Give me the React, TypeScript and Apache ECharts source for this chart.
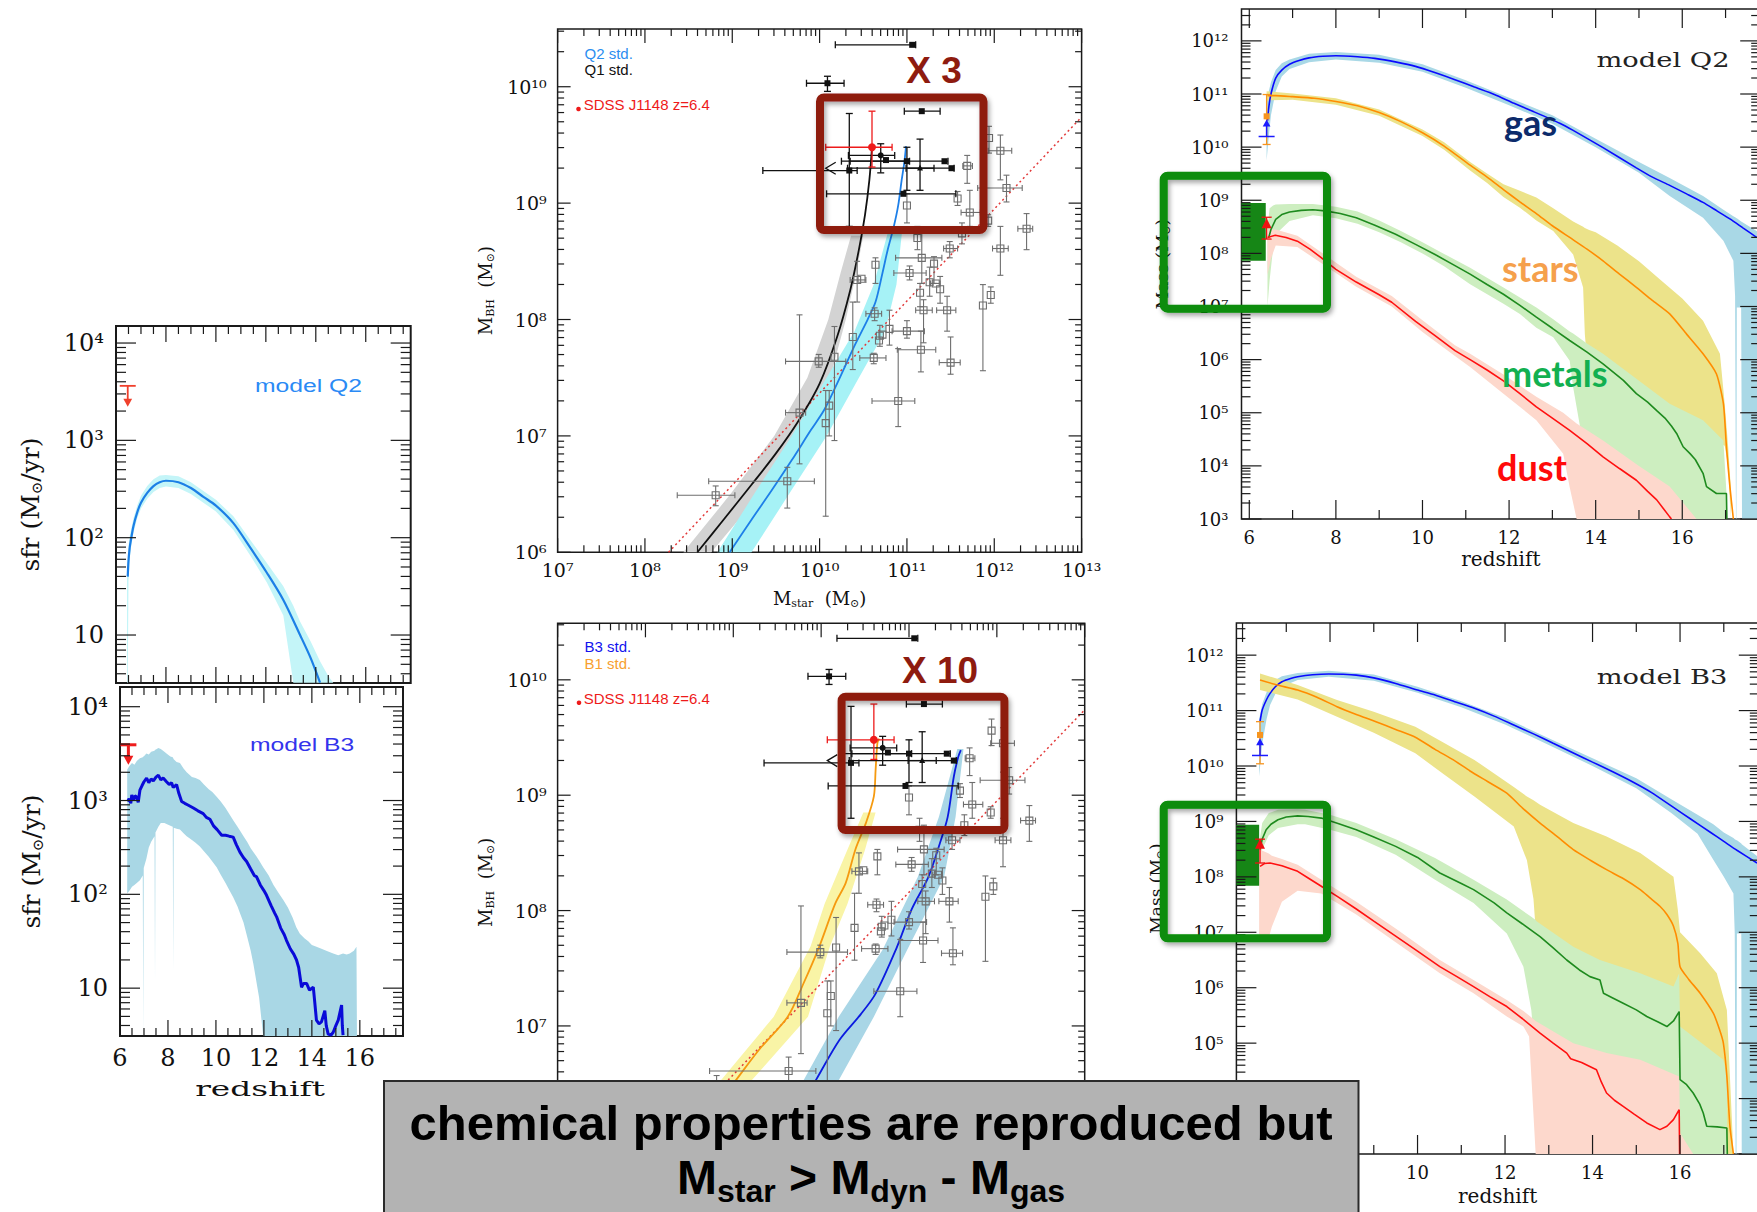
import React, { useEffect, useRef } from "react";
import * as echarts from "echarts";

const SERIF = "'DejaVu Serif', 'Liberation Serif', serif";
const SANS = "'Liberation Sans', Arial, sans-serif";
const HUM = "Lato, 'Open Sans', sans-serif";

// ===== Star formation histories: log10(SFR / Msun yr^-1) vs redshift =====
const sfrQ2Line = [
  [6.47, 1.6], [6.5, 1.76], [6.55, 1.9], [6.6, 1.98], [6.7, 2.12], [6.85, 2.26], [7.0, 2.36], [7.25, 2.46],
  [7.5, 2.53], [7.75, 2.57], [8.0, 2.585], [8.5, 2.57], [9.0, 2.51], [9.5, 2.42], [10.0, 2.33], [10.7, 2.15],
  [11.37, 1.9], [12.04, 1.64], [12.7, 1.36], [13.37, 1.0], [13.8, 0.76], [14.17, 0.51],
];
// [z, lower, upper]
const sfrQ2Band = [
  [6.44, 0.51, 1.7], [6.47, 0.51, 1.8], [6.5, 1.55, 1.92], [6.55, 1.78, 2.02], [6.6, 1.9, 2.08], [6.7, 2.05, 2.2],
  [6.85, 2.2, 2.33], [7.0, 2.3, 2.43], [7.25, 2.4, 2.53], [7.5, 2.47, 2.6], [7.75, 2.51, 2.64], [8.0, 2.525, 2.645],
  [8.5, 2.51, 2.63], [9.0, 2.45, 2.57], [9.5, 2.36, 2.48], [10.0, 2.27, 2.39], [10.7, 2.08, 2.22], [11.37, 1.82, 1.98],
  [12.04, 1.54, 1.74], [12.7, 1.2, 1.5], [13.1, 0.51, 1.3], [13.37, 0.51, 1.14], [13.8, 0.51, 0.93], [14.17, 0.51, 0.73],
  [14.5, 0.51, 0.58], [14.7, 0.51, 0.51],
];
// [z, cap, arrow tip]
const sfrQ2Limit = [[6.47, 3.56, 3.345]];

const sfrB3Line = [
  [6.32, 2.99], [6.38, 3.02], [6.45, 2.97], [6.49, 3.06], [6.56, 3.0], [6.62, 3.05], [6.69, 3.04], [6.76, 2.98],
  [6.83, 3.11], [6.92, 3.16], [7.0, 3.2], [7.11, 3.24], [7.2, 3.19], [7.3, 3.23], [7.39, 3.21], [7.5, 3.25],
  [7.6, 3.27], [7.7, 3.22], [7.8, 3.24], [7.94, 3.2], [8.05, 3.17], [8.15, 3.19], [8.22, 3.14], [8.36, 3.17],
  [8.45, 3.08], [8.57, 2.99], [8.7, 2.97], [8.85, 2.95], [9.06, 2.92], [9.25, 2.89], [9.47, 2.86], [9.6, 2.82],
  [9.75, 2.8], [9.9, 2.73], [10.05, 2.69], [10.24, 2.63], [10.4, 2.63], [10.55, 2.62], [10.72, 2.61], [10.85, 2.53],
  [11.0, 2.45], [11.15, 2.39], [11.28, 2.35], [11.45, 2.27], [11.6, 2.2], [11.69, 2.19], [11.85, 2.1], [12.0, 2.04],
  [12.11, 1.99], [12.3, 1.88], [12.45, 1.8], [12.53, 1.76], [12.7, 1.64], [12.85, 1.57], [12.94, 1.51], [13.1, 1.42],
  [13.25, 1.36], [13.36, 1.3], [13.45, 1.22], [13.57, 1.01], [13.65, 1.05], [13.78, 1.05], [13.9, 0.98], [14.06, 1.01],
  [14.12, 0.85], [14.19, 0.66], [14.3, 0.62], [14.4, 0.64], [14.54, 0.76], [14.6, 0.6], [14.68, 0.51], [14.8, 0.5],
  [14.89, 0.53], [15.0, 0.6], [15.1, 0.66], [15.24, 0.82], [15.27, 0.6], [15.3, 0.5],
];
const sfrB3Band = [
  [6.3, 2.01, 3.33], [6.4, 2.04, 3.37], [6.5, 2.08, 3.4], [6.6, 2.1, 3.38], [6.7, 2.12, 3.42], [6.83, 2.15, 3.45],
  [6.95, 2.2, 3.46], [6.97, 0.49, 3.47], [6.99, 2.28, 3.47], [7.1, 2.38, 3.5], [7.2, 2.5, 3.49], [7.3, 2.56, 3.52],
  [7.44, 2.62, 3.53], [7.46, 1.08, 3.54], [7.48, 2.66, 3.54], [7.6, 2.72, 3.56], [7.7, 2.76, 3.55], [7.85, 2.76, 3.52],
  [7.94, 2.75, 3.5], [8.1, 2.73, 3.47], [8.2, 2.72, 3.46], [8.22, 1.19, 3.45], [8.24, 2.71, 3.44], [8.36, 2.7, 3.41],
  [8.5, 2.69, 3.4], [8.65, 2.65, 3.34], [8.78, 2.62, 3.3], [9.0, 2.58, 3.25], [9.15, 2.55, 3.24], [9.33, 2.51, 3.22],
  [9.5, 2.46, 3.17], [9.7, 2.4, 3.12], [9.85, 2.35, 3.09], [10.03, 2.29, 3.04], [10.2, 2.21, 2.99], [10.4, 2.12, 2.92],
  [10.55, 2.05, 2.86], [10.72, 1.97, 2.79], [10.9, 1.87, 2.72], [11.0, 1.8, 2.68], [11.15, 1.7, 2.62], [11.3, 1.55, 2.56],
  [11.45, 1.4, 2.49], [11.56, 1.26, 2.45], [11.7, 1.05, 2.4], [11.8, 0.9, 2.36], [11.97, 0.49, 2.29], [12.2, 0.49, 2.2],
  [12.4, 0.49, 2.1], [12.6, 0.49, 2.02], [12.81, 0.49, 1.94], [13.0, 0.49, 1.86], [13.2, 0.49, 1.75], [13.35, 0.49, 1.65],
  [13.5, 0.49, 1.58], [13.7, 0.49, 1.53], [13.85, 0.49, 1.5], [14.0, 0.49, 1.46], [14.19, 0.49, 1.44], [14.4, 0.49, 1.42],
  [14.6, 0.49, 1.4], [14.89, 0.49, 1.37], [15.1, 0.49, 1.35], [15.3, 0.49, 1.37], [15.45, 0.49, 1.36], [15.58, 0.49, 1.37],
  [15.75, 0.49, 1.4], [15.86, 0.49, 1.44], [15.88, 0.49, 0.49],
];
const sfrB3Limit = [[6.35, 3.594, 3.38]];

// ===== Black-hole mass vs stellar mass (log10 Msun) =====
// model tracks: [log Mstar, log MBH]; bands: [log MBH, log Mstar low, log Mstar high]
const q1Track = [
  [8.6, 6.0], [8.9, 6.28], [9.22, 6.58], [9.5, 6.85], [9.75, 7.12], [10.0, 7.45], [10.2, 7.85], [10.35, 8.25],
  [10.45, 8.6], [10.52, 8.9], [10.57, 9.2], [10.6, 9.48],
];
const q1Band = [[6.0, 8.44, 8.76], [6.5, 8.98, 9.32], [7.0, 9.48, 9.8], [7.5, 9.86, 10.12], [8.0, 10.1, 10.3], [8.4, 10.24, 10.42], [8.72, 10.36, 10.5]];
const q2Track = [
  [8.97, 6.0], [9.22, 6.28], [9.45, 6.53], [9.68, 6.79], [9.9, 7.05], [10.05, 7.22], [10.2, 7.45], [10.41, 7.79],
  [10.55, 8.0], [10.64, 8.15], [10.72, 8.4], [10.78, 8.6], [10.85, 8.8], [10.9, 8.98], [10.94, 9.2], [10.97, 9.35], [10.99, 9.49],
];
const q2Band = [[6.0, 8.83, 9.22], [6.5, 9.25, 9.65], [7.0, 9.68, 10.08], [7.5, 10.08, 10.45], [7.9, 10.4, 10.75], [8.3, 10.62, 10.88], [8.8, 10.8, 10.95]];
const b1Track = [
  [8.5, 6.0], [8.8, 6.3], [9.02, 6.52], [9.3, 6.8], [9.62, 7.08], [9.8, 7.37], [9.98, 7.69], [10.16, 8.06],
  [10.28, 8.24], [10.39, 8.53], [10.51, 8.76], [10.6, 8.99], [10.62, 9.22], [10.64, 9.45], [10.66, 9.49],
];
const b1Band = [[6.0, 8.35, 8.7], [6.52, 8.85, 9.2], [7.08, 9.46, 9.85], [7.69, 9.88, 10.1], [8.06, 10.04, 10.3], [8.53, 10.3, 10.5], [8.85, 10.48, 10.62]];
const b3Track = [
  [9.53, 6.0], [9.75, 6.28], [9.94, 6.53], [10.21, 6.88], [10.45, 7.1], [10.62, 7.28], [10.85, 7.66], [11.03, 8.01],
  [11.22, 8.29], [11.35, 8.58], [11.44, 8.81], [11.51, 9.16], [11.56, 9.33], [11.59, 9.39],
];
const b3Band = [[6.0, 9.35, 9.8], [6.53, 9.8, 10.2], [7.08, 10.2, 10.6], [7.66, 10.7, 10.98], [8.29, 11.1, 11.4], [8.81, 11.34, 11.53], [9.4, 11.55, 11.62]];
const localRelation = [[8.27, 6.0], [13.0, 9.74]];
// [log Mstar, log MBH, x low, x high, y low, y high]
const localSample = [
  [11.94, 9.56, 11.94, 11.94, 9.43, 9.66], [12.07, 9.45, 11.93, 12.2, 9.2, 9.585], [11.69, 9.32, 11.64, 11.75, 9.17, 9.41],
  [12.14, 9.13, 11.81, 12.32, 9.01, 9.24], [11.58, 9.04, 11.58, 11.58, 8.98, 9.1], [11.0, 8.98, 11.0, 11.0, 8.83, 9.08],
  [11.72, 8.92, 11.62, 11.84, 8.8, 9.11], [11.93, 8.85, 11.93, 11.93, 8.8, 8.9], [12.37, 8.78, 12.27, 12.44, 8.6, 8.91],
  [11.63, 8.74, 11.63, 11.63, 8.65, 8.83], [11.12, 8.7, 11.12, 11.12, 8.6, 8.8], [11.49, 8.61, 11.42, 11.58, 8.53, 8.67],
  [12.07, 8.61, 11.98, 12.16, 8.38, 8.8], [11.17, 8.53, 10.87, 11.4, 8.31, 8.74], [11.31, 8.48, 11.31, 11.31, 8.31, 8.54],
  [10.64, 8.47, 10.64, 10.64, 8.31, 8.53], [10.43, 8.34, 10.35, 10.53, 8.15, 8.5], [10.48, 8.35, 10.48, 10.48, 8.35, 8.35],
  [11.03, 8.4, 10.85, 11.22, 8.34, 8.46], [11.26, 8.32, 11.26, 11.26, 8.2, 8.45], [11.33, 8.31, 11.27, 11.38, 8.31, 8.31],
  [11.38, 8.26, 11.38, 11.38, 8.14, 8.37], [11.15, 8.23, 11.15, 11.15, 8.11, 8.31], [11.96, 8.21, 11.96, 11.96, 8.14, 8.28],
  [11.87, 8.12, 11.87, 11.87, 7.56, 8.3], [11.19, 8.08, 11.1, 11.29, 7.8, 8.17], [11.46, 8.08, 11.34, 11.56, 7.9, 8.2],
  [10.63, 8.05, 10.53, 10.71, 7.99, 8.1], [10.38, 7.85, 10.38, 10.38, 7.57, 8.15], [10.8, 7.92, 10.8, 10.8, 7.78, 8.08],
  [11.0, 7.9, 10.83, 11.2, 7.84, 7.99], [10.69, 7.86, 10.69, 10.69, 7.77, 7.95], [10.68, 7.82, 10.68, 10.68, 7.82, 7.82],
  [10.72, 7.87, 10.72, 10.72, 7.87, 7.87], [10.62, 7.67, 10.46, 10.76, 7.62, 7.71], [9.99, 7.64, 9.61, 10.3, 7.59, 7.7],
  [10.17, 7.68, 10.17, 10.17, 6.96, 7.94], [11.16, 7.74, 10.89, 11.33, 7.55, 7.9], [11.5, 7.63, 11.37, 11.61, 7.53, 7.85],
  [10.9, 7.3, 10.6, 11.09, 7.08, 7.75], [9.77, 7.2, 9.61, 9.84, 6.76, 8.04], [10.11, 7.26, 10.11, 10.11, 7.0, 7.39],
  [10.07, 7.11, 10.07, 10.07, 6.31, 7.39], [9.63, 6.61, 8.73, 9.94, 6.38, 6.73], [8.81, 6.49, 8.37, 9.03, 6.4, 6.57],
];
// high-z quasars, last column: 0 square, 1 dot, 2 triangle
const highzQuasars = [
  [11.06, 10.36, 10.18, 11.1, 10.36, 10.36, 0], [10.09, 10.03, 9.85, 10.28, 9.96, 10.09, 0],
  [11.17, 9.79, 10.97, 11.38, 9.79, 9.79, 0], [10.7, 9.41, 10.33, 10.86, 9.26, 9.51, 1],
  [10.76, 9.37, 10.76, 10.76, 9.37, 9.37, 0], [11.43, 9.36, 10.25, 11.47, 9.36, 9.36, 0],
  [11.0, 9.36, 10.35, 11.03, 9.11, 9.48, 0], [11.51, 9.3, 10.32, 11.54, 9.3, 9.3, 0],
  [11.15, 9.3, 10.99, 11.31, 9.11, 9.55, 2], [10.34, 9.28, 9.35, 10.43, 8.8, 9.77, 0],
  [10.96, 9.08, 10.08, 11.56, 9.08, 9.08, 0],
];
const highzStarLimit = [[10.07, 9.3]];
const j1148 = [[10.6, 9.48, 10.07, 10.83, 9.31, 9.79, 1]];

// ===== Mass evolution: log10(M / Msun) vs redshift, model Q2 =====
const gasQ2 = [
  [6.42, 10.5], [6.45, 10.75], [6.5, 11.0], [6.61, 11.3], [6.75, 11.45], [6.93, 11.56], [7.15, 11.63], [7.38, 11.68],
  [7.7, 11.71], [8.0, 11.72], [8.5, 11.7], [8.9, 11.67], [9.4, 11.6], [9.84, 11.52], [10.3, 11.4], [10.75, 11.27],
  [11.2, 11.13], [11.66, 10.99], [12.1, 10.83], [12.56, 10.67], [13.17, 10.45], [13.47, 10.32], [14.17, 9.99],
  [14.94, 9.61], [15.3, 9.44], [15.71, 9.28], [16.1, 9.12], [16.48, 8.96], [16.8, 8.8], [17.1, 8.65], [17.4, 8.48], [17.72, 8.3],
];
const gasQ2Band = [
  [6.4, 9.75, 10.85], [6.45, 10.2, 11.05], [6.5, 10.6, 11.22], [6.61, 11.05, 11.45], [6.75, 11.33, 11.58], [6.93, 11.47, 11.65],
  [7.38, 11.6, 11.76], [8.0, 11.65, 11.79], [9.0, 11.59, 11.74], [10.0, 11.42, 11.56], [11.0, 11.12, 11.26], [12.0, 10.79, 10.93],
  [13.0, 10.44, 10.6], [14.0, 10.0, 10.16], [15.0, 9.52, 9.72], [15.71, 9.08, 9.42], [16.48, 8.67, 9.08], [16.95, 8.24, 8.82],
  [17.18, 7.86, 8.7], [17.22, 7.2, 8.68], [17.24, 3.0, 8.67], [17.25, 3.0, 8.66], [17.26, 6.98, 8.66], [17.36, 6.98, 8.6],
  [17.38, 3.0, 8.59], [17.8, 3.0, 8.38],
];
const starsQ2 = [
  [6.42, 10.97], [6.6, 10.97], [7.0, 10.95], [7.5, 10.92], [8.0, 10.86], [8.5, 10.78], [9.0, 10.65], [9.5, 10.48],
  [10.0, 10.27], [10.5, 10.02], [11.1, 9.66], [11.5, 9.43], [11.87, 9.2], [12.25, 8.97], [12.63, 8.75], [13.0, 8.52],
  [13.4, 8.3], [13.8, 8.08], [14.17, 7.86], [14.55, 7.61], [14.94, 7.36], [15.3, 7.12], [15.71, 6.86], [16.1, 6.48],
  [16.48, 6.11], [16.79, 5.73], [16.95, 5.17], [17.02, 4.36], [17.1, 3.61], [17.18, 3.0],
];
const starsQ2Band = [
  [6.4, 10.88, 11.05], [7.0, 10.89, 11.01], [8.0, 10.8, 10.92], [9.0, 10.59, 10.71], [10.0, 10.21, 10.33], [10.5, 9.95, 10.09],
  [11.1, 9.56, 9.72], [11.5, 9.32, 9.5], [11.87, 9.06, 9.3], [12.25, 8.86, 9.18], [12.63, 8.62, 9.05], [13.02, 8.42, 8.85],
  [13.48, 7.98, 8.6], [13.71, 7.36, 8.5], [13.75, 6.48, 8.48], [13.85, 5.5, 8.44], [14.0, 4.9, 8.4], [14.5, 4.65, 8.15],
  [15.0, 4.6, 7.85], [15.5, 4.56, 7.5], [16.0, 4.53, 7.15], [16.48, 4.5, 6.73], [16.87, 4.42, 6.11], [16.98, 4.38, 5.17],
  [17.06, 4.0, 4.36], [17.12, 3.0, 3.6],
];
const metalsQ2 = [
  [6.45, 8.3], [6.5, 8.45], [6.61, 8.64], [6.75, 8.73], [6.93, 8.78], [7.2, 8.81], [7.47, 8.82], [7.75, 8.8],
  [8.1, 8.75], [8.47, 8.67], [8.9, 8.53], [9.38, 8.36], [9.84, 8.17], [10.29, 7.98], [10.75, 7.77], [11.1, 7.61],
  [11.5, 7.41], [11.87, 7.23], [12.25, 7.02], [12.63, 6.8], [13.0, 6.59], [13.4, 6.36], [13.8, 6.14], [14.17, 5.92],
  [14.64, 5.61], [14.94, 5.36], [15.2, 5.2], [15.41, 5.04], [15.6, 4.9], [15.75, 4.75], [15.87, 4.61], [16.02, 4.36],
  [16.18, 4.23], [16.3, 4.12], [16.48, 3.86], [16.56, 3.61], [16.79, 3.48], [17.02, 3.48], [17.03, 3.0],
];
const metalsQ2Band = [
  [6.42, 7.0, 8.5], [6.47, 7.5, 8.85], [6.55, 8.1, 8.9], [6.61, 8.36, 8.92], [6.93, 8.61, 8.93], [7.47, 8.72, 8.93],
  [8.0, 8.66, 8.88], [8.5, 8.56, 8.79], [9.0, 8.4, 8.62], [9.5, 8.21, 8.42], [10.0, 8.0, 8.21], [10.5, 7.76, 7.99],
  [11.1, 7.42, 7.73], [11.87, 7.05, 7.36], [12.25, 6.86, 7.17], [12.63, 6.6, 6.98], [13.02, 6.42, 6.76], [13.4, 5.98, 6.53],
  [13.48, 5.48, 6.49], [13.64, 4.73, 6.4], [13.79, 3.0, 6.31], [14.17, 3.0, 6.11], [14.94, 3.0, 5.64], [15.71, 3.0, 5.17],
  [16.48, 3.0, 4.86], [16.95, 3.0, 4.48], [17.02, 3.0, 3.5], [17.03, 3.0, 3.0],
];
const dustQ2 = [
  [6.42, 8.3], [6.6, 8.34], [6.85, 8.3], [7.11, 8.23], [7.4, 8.08], [7.66, 7.92], [8.0, 7.7], [8.47, 7.46],
  [9.0, 7.22], [9.29, 7.08], [9.84, 6.72], [10.29, 6.45], [10.75, 6.17], [11.1, 6.0], [11.5, 5.8], [11.87, 5.6],
  [12.25, 5.36], [12.63, 5.11], [13.0, 4.9], [13.4, 4.67], [13.8, 4.42], [14.17, 4.17], [14.55, 3.95], [14.94, 3.73],
  [15.2, 3.52], [15.41, 3.36], [15.71, 3.04], [15.75, 3.0],
];
const dustQ2Band = [
  [6.42, 7.6, 8.42], [6.5, 7.9, 8.45], [6.61, 8.15, 8.45], [7.11, 8.12, 8.33], [7.66, 7.82, 8.02], [8.47, 7.37, 7.56],
  [9.29, 7.0, 7.2], [10.0, 6.52, 6.74], [10.75, 6.07, 6.27], [11.1, 5.86, 6.11], [11.87, 5.36, 5.72], [12.63, 4.86, 5.3],
  [13.25, 4.23, 5.0], [13.4, 3.6, 4.9], [13.56, 3.0, 4.8], [14.17, 3.0, 4.48], [15.0, 3.0, 4.0], [15.71, 3.0, 3.61], [16.33, 3.0, 3.0],
];
// J1148 constraints at z = 6.4
const starsObsQ2 = [[6.4, 10.58, 6.4, 6.4, 10.05, 10.99]];
const gasObsQ2 = [[6.4, 10.2, 10.52]];
const dustObsQ2 = [[6.4, 8.55, 6.4, 6.4, 8.27, 8.68]];
const metalsObsQ2 = [[6.38, 7.86, 8.95]];

// ===== Mass evolution, model B3 =====
const gasB3 = [
  [6.4, 10.8], [6.45, 11.01], [6.55, 11.2], [6.63, 11.31], [6.75, 11.43], [6.9, 11.52], [7.1, 11.58], [7.26, 11.61],
  [7.6, 11.645], [7.97, 11.66], [8.3, 11.655], [8.6, 11.64], [9.0, 11.59], [9.5, 11.49], [10.0, 11.37], [10.4, 11.28],
  [10.85, 11.16], [11.3, 11.04], [11.75, 10.9], [12.2, 10.74], [12.65, 10.58], [13.1, 10.41], [13.55, 10.24], [14.0, 10.07],
  [14.45, 9.9], [14.9, 9.72], [15.35, 9.52], [15.8, 9.28], [16.25, 9.04], [16.7, 8.8], [17.0, 8.64], [17.3, 8.48], [17.76, 8.25],
];
const gasB3Band = [
  [6.38, 9.81, 10.85], [6.45, 10.4, 11.12], [6.55, 10.85, 11.33], [6.63, 11.1, 11.45], [6.75, 11.3, 11.55], [6.9, 11.43, 11.62],
  [7.26, 11.55, 11.68], [7.97, 11.61, 11.72], [9.0, 11.54, 11.65], [10.0, 11.32, 11.43], [11.0, 11.06, 11.17], [12.0, 10.75, 10.87],
  [13.0, 10.38, 10.5], [14.0, 10.0, 10.14], [15.0, 9.6, 9.78], [15.8, 9.15, 9.4], [16.4, 8.78, 9.12], [16.76, 8.31, 8.95],
  [17.0, 8.0, 8.8], [17.22, 7.7, 8.7], [17.25, 6.98, 8.68], [17.27, 3.0, 8.67], [17.29, 3.0, 8.66], [17.3, 6.98, 8.66],
  [17.4, 6.98, 8.6], [17.41, 3.0, 8.59], [17.8, 3.0, 8.35],
];
const starsB3 = [
  [6.4, 11.55], [6.8, 11.46], [7.26, 11.37], [7.7, 11.24], [8.16, 11.07], [8.6, 10.93], [9.05, 10.8], [9.5, 10.66],
  [9.95, 10.52], [10.4, 10.3], [10.82, 10.11], [11.2, 9.91], [11.6, 9.72], [12.04, 9.51], [12.4, 9.24], [12.8, 8.97],
  [13.2, 8.72], [13.56, 8.49], [13.95, 8.3], [14.32, 8.13], [14.7, 7.97], [15.09, 7.77], [15.3, 7.63], [15.54, 7.47],
  [15.7, 7.32], [15.85, 7.11], [15.95, 6.8], [16.0, 6.38], [16.2, 6.15], [16.46, 5.9], [16.76, 5.54], [16.9, 5.25],
  [16.99, 5.0], [17.07, 4.4], [17.14, 3.5], [17.22, 3.0],
];
const starsB3Band = [
  [6.4, 11.37, 11.67], [7.26, 11.2, 11.46], [8.16, 10.89, 11.19], [9.0, 10.6, 10.98], [9.95, 10.23, 10.71], [10.6, 9.85, 10.42],
  [11.3, 9.45, 10.11], [12.2, 8.91, 9.62], [12.5, 8.3, 9.45], [12.65, 7.6, 9.38], [12.75, 6.5, 9.33], [12.8, 3.0, 9.3],
  [13.56, 3.0, 8.97], [14.32, 3.0, 8.73], [15.09, 3.0, 8.43], [15.85, 3.0, 8.0], [15.95, 3.0, 7.4], [16.0, 3.0, 7.0],
  [16.46, 3.0, 6.62], [16.84, 3.0, 6.26], [17.07, 3.0, 5.6], [17.14, 3.0, 4.4], [17.22, 3.0, 3.0],
];
const metalsB3 = [
  [6.4, 8.49], [6.45, 8.68], [6.54, 8.85], [6.65, 8.95], [6.81, 9.03], [7.0, 9.08], [7.26, 9.1], [7.5, 9.09],
  [7.8, 9.06], [8.2, 8.96], [8.6, 8.85], [9.0, 8.72], [9.5, 8.55], [10.0, 8.35], [10.51, 8.07], [11.0, 7.88],
  [11.28, 7.77], [11.75, 7.53], [12.04, 7.35], [12.4, 7.15], [12.8, 6.92], [13.1, 6.72], [13.41, 6.5], [13.7, 6.32],
  [13.94, 6.2], [14.17, 6.14], [14.25, 5.9], [14.45, 5.82], [14.7, 5.72], [15.0, 5.6], [15.24, 5.48], [15.5, 5.38],
  [15.7, 5.3], [15.85, 5.4], [15.98, 5.57], [16.0, 4.34], [16.15, 4.25], [16.3, 4.1], [16.45, 3.9], [16.53, 3.74],
  [16.61, 3.5], [16.85, 3.49], [17.07, 3.47], [17.08, 3.0],
];
const metalsB3Band = [
  [6.38, 8.3, 8.6], [6.45, 8.5, 8.97], [6.6, 8.75, 9.15], [6.81, 8.88, 9.21], [7.26, 8.95, 9.22], [7.43, 8.95, 9.21],
  [8.0, 8.85, 9.12], [8.6, 8.72, 8.97], [9.5, 8.4, 8.68], [10.4, 7.95, 8.34], [11.28, 7.53, 7.95], [12.04, 6.98, 7.59],
  [12.42, 6.38, 7.38], [12.6, 5.6, 7.28], [12.7, 4.7, 7.22], [12.72, 3.0, 7.2], [13.56, 3.0, 6.74], [14.17, 3.0, 6.5],
  [15.09, 3.0, 6.26], [15.85, 3.0, 6.02], [15.98, 3.0, 6.26], [16.0, 3.0, 5.3], [16.99, 3.0, 4.7], [17.07, 3.0, 4.4], [17.08, 3.0, 3.0],
];
const dustB3 = [
  [6.4, 8.19], [6.5, 8.24], [6.63, 8.25], [6.9, 8.2], [7.26, 8.1], [7.5, 7.98], [7.8, 7.83], [8.2, 7.63],
  [8.6, 7.42], [9.0, 7.2], [9.5, 6.93], [10.0, 6.66], [10.51, 6.38], [10.9, 6.2], [11.28, 6.02], [11.65, 5.84],
  [12.04, 5.66], [12.4, 5.44], [12.8, 5.18], [13.1, 5.0], [13.41, 4.82], [13.5, 4.72], [13.75, 4.65], [14.09, 4.52],
  [14.2, 4.3], [14.32, 4.1], [14.5, 3.97], [14.7, 3.86], [14.95, 3.72], [15.24, 3.56], [15.54, 3.44], [15.7, 3.5],
  [15.85, 3.62], [15.98, 3.8], [15.99, 3.0],
];
const dustB3Band = [
  [6.38, 6.83, 8.5], [6.6, 6.9, 8.42], [6.67, 7.1, 8.38], [6.9, 7.55, 8.32], [7.26, 7.75, 8.22], [7.8, 7.7, 7.95],
  [8.6, 7.32, 7.55], [9.5, 6.82, 7.07], [10.51, 6.26, 6.5], [11.28, 5.9, 6.14], [12.04, 5.48, 5.78], [12.42, 5.3, 5.58],
  [12.55, 5.12, 5.5], [12.7, 3.0, 5.4], [13.56, 3.0, 5.0], [14.32, 3.0, 4.82], [15.09, 3.0, 4.7], [15.98, 3.0, 4.4],
  [16.0, 3.0, 3.38], [16.3, 3.0, 3.0],
];
const starsObsB3 = [[6.4, 10.56, 6.4, 6.4, 10.04, 10.8]];
const gasObsB3 = [[6.4, 10.19, 10.5]];
const dustObsB3 = [[6.4, 8.58, 6.4, 6.4, 8.25, 8.68]];
const metalsObsB3 = [[6.38, 7.84, 8.94]];

// tick label values
const sfrDecades = [1, 2, 3, 4];
const redshiftLabels = [6, 8, 10, 12, 14, 16];
const redshiftLabelsOpen = [10, 12, 14, 16];
const mbhDecades = [6, 7, 8, 9, 10];
const mbhDecadesLower = [7, 8, 9, 10];
const mstarDecades = [7, 8, 9, 10, 11, 12, 13];
const massDecades = [3, 4, 5, 6, 7, 8, 9, 10, 11, 12];
const massDecadesLower = [5, 6, 7, 8, 9, 10, 11, 12];

// ----- helpers -----
const SUP = "⁰¹²³⁴⁵⁶⁷⁸⁹";
const pow10 = (n: number) => (n === 1 ? "10" : "10" + String(n).split("").map((d) => SUP[+d]).join(""));

function logTicks(lo: number, hi: number) {
  const out: number[][] = [];
  for (let d = Math.floor(lo); d <= Math.ceil(hi); d++)
    for (let m = 1; m <= 9; m++) {
      const v = d + Math.log10(m);
      if (v >= lo - 1e-6 && v <= hi + 1e-6) out.push([v, m === 1 ? 1 : 0]);
    }
  return out;
}
function linTicks(lo: number, hi: number, step: number, every: number, origin: number) {
  const out: number[][] = [];
  const n0 = Math.ceil((lo - origin) / step - 1e-6);
  for (let n = n0; origin + n * step <= hi + 1e-6; n++) {
    const v = origin + n * step;
    const k = (v - origin) / every;
    out.push([v, Math.abs(k - Math.round(k)) < 1e-6 ? 1 : 0]);
  }
  return out;
}

const GRIDS: any[] = [
  { left: 116, top: 326, width: 294.7, height: 357, x: [6, 17.8], y: [0.507, 4.175], xt: "z05", xl: null, yl: sfrDecades, fs: 24, tl: [20, 10, 16, 8], ym: 12, xm: 12, bw: 2 },
  { left: 120, top: 687, width: 283, height: 349, x: [6, 17.8], y: [0.49, 4.21], xt: "z05", xl: redshiftLabels, yl: sfrDecades, fs: 24, tl: [20, 10, 16, 8], ym: 12, xm: 10, bw: 2 },
  { left: 557.6, top: 29, width: 524, height: 523.3, x: [7, 13], y: [6, 10.496], xt: "log", xl: mstarDecades, yl: mbhDecades, fs: 19, tl: [13, 6.5, 14, 7], ym: 11, xm: 8, bw: 1.5 },
  { left: 557.6, top: 623.3, width: 527.1, height: 518, x: [7, 13], y: [6, 10.49], xt: "log", xl: null, yl: mbhDecadesLower, fs: 19, tl: [13, 6.5, 14, 7], ym: 11, xm: 8, bw: 1.5 },
  { left: 1241.5, top: 9, width: 518.7, height: 510, x: [5.82, 17.8], y: [3, 12.6], xt: "z1", xl: redshiftLabels, yl: massDecades, fs: 18, tl: [20, 9, 19, 9], ym: 13, xm: 9, bw: 1.5 },
  { left: 1236.4, top: 623, width: 522.4, height: 531, x: [5.86, 17.8], y: [3, 12.58], xt: "z1", xl: redshiftLabelsOpen, yl: massDecadesLower, fs: 18, tl: [20, 9, 19, 9], ym: 13, xm: 9, bw: 1.5 },
];

const INK = "#1a1a1a";

function tickSeries(gi: number, g: any) {
  const data: number[][] = [];
  logTicks(g.y[0], g.y[1]).forEach(([v, m]) => data.push([g.x[0], v, 0, m]));
  const xs = g.xt === "log" ? logTicks(g.x[0], g.x[1]) : g.xt === "z05" ? linTicks(g.x[0], g.x[1], 0.5, 2, 6) : linTicks(g.x[0], g.x[1], 1, 2, 6);
  xs.forEach(([v, m]) => data.push([v, g.y[0], 1, m]));
  return {
    type: "custom", xAxisIndex: gi, yAxisIndex: gi, silent: true, z: 9, data, encode: { x: 0, y: 1 },
    renderItem: (p: any, api: any) => {
      const kind = api.value(2);
      const major = api.value(3);
      const st = () => ({ stroke: INK, lineWidth: 1.2 });
      if (kind === 0) {
        const v = api.value(1);
        const a = api.coord([g.x[0], v]);
        const b = api.coord([g.x[1], v]);
        const len = major ? g.tl[0] : g.tl[1];
        return { type: "group", children: [
          { type: "line", shape: { x1: a[0], y1: a[1], x2: a[0] + len, y2: a[1] }, style: st() },
          { type: "line", shape: { x1: b[0], y1: b[1], x2: b[0] - len, y2: b[1] }, style: st() },
        ] };
      }
      const v = api.value(0);
      const a = api.coord([v, g.y[0]]);
      const b = api.coord([v, g.y[1]]);
      const len = major ? g.tl[2] : g.tl[3];
      return { type: "group", children: [
        { type: "line", shape: { x1: a[0], y1: a[1], x2: a[0], y2: a[1] - len }, style: st() },
        { type: "line", shape: { x1: b[0], y1: b[1], x2: b[0], y2: b[1] + len }, style: st() },
      ] };
    },
  };
}

// filled envelope between two edges; vertical = rows are [y, xlo, xhi]
function band(gi: number, rows: number[][], fill: string, vertical = false, z = 1) {
  return {
    type: "custom", xAxisIndex: gi, yAxisIndex: gi, silent: true, z, data: rows,
    encode: vertical ? { y: 0, x: [1, 2] } : { x: 0, y: [1, 2] },
    renderItem: (p: any, api: any) => {
      if (p.dataIndex !== 0) return null;
      const pt = (a: number, b: number) => api.coord(vertical ? [b, a] : [a, b]);
      const upper = rows.map((r) => pt(r[0], r[2]));
      const lower = rows.map((r) => pt(r[0], r[1])).reverse();
      return { type: "polygon", shape: { points: upper.concat(lower) }, style: { fill } };
    },
  };
}

function curve(gi: number, data: number[][], color: string, width: number, z = 4, smooth: any = false, dash: any = "solid") {
  return {
    type: "line", xAxisIndex: gi, yAxisIndex: gi, data, showSymbol: false, symbol: "none", silent: true, z, smooth,
    lineStyle: { color, width, type: dash }, clip: true,
  };
}

// error bars with a marker: rows [x, y, xlo, xhi, ylo, yhi, (marker)]
function errorBars(gi: number, rows: number[][], color: string, o: any) {
  return {
    type: "custom", xAxisIndex: gi, yAxisIndex: gi, silent: true, z: o.z || 6, data: rows, encode: { x: 0, y: 1 },
    renderItem: (p: any, api: any) => {
      const r = rows[p.dataIndex];
      const [x, y, xlo, xhi, ylo, yhi] = r;
      const mk = r.length > 6 ? r[6] : o.marker;
      const c = api.coord([x, y]);
      const ch: any[] = [];
      const ln = (x1: number, y1: number, x2: number, y2: number) =>
        ch.push({ type: "line", shape: { x1, y1, x2, y2 }, style: { stroke: color, lineWidth: o.lw } });
      if (xhi > xlo) {
        const a = api.coord([xlo, y]);
        const b = api.coord([xhi, y]);
        ln(a[0], a[1], b[0], b[1]);
        ln(a[0], a[1] - o.cap, a[0], a[1] + o.cap);
        ln(b[0], b[1] - o.cap, b[0], b[1] + o.cap);
      }
      if (yhi > ylo) {
        const a = api.coord([x, ylo]);
        const b = api.coord([x, yhi]);
        ln(a[0], a[1], b[0], b[1]);
        ln(a[0] - o.cap, a[1], a[0] + o.cap, a[1]);
        ln(b[0] - o.cap, b[1], b[0] + o.cap, b[1]);
      }
      const h = o.size / 2;
      if (mk === -1) {
        ch.push({ type: "rect", shape: { x: c[0] - h, y: c[1] - h, width: 2 * h, height: 2 * h }, style: { fill: "none", stroke: color, lineWidth: o.lw } });
      } else if (mk === 0) {
        ch.push({ type: "rect", shape: { x: c[0] - h, y: c[1] - h, width: 2 * h, height: 2 * h }, style: { fill: color } });
      } else if (mk === 1) {
        ch.push({ type: "circle", shape: { cx: c[0], cy: c[1], r: h }, style: { fill: color } });
      } else if (mk === 2) {
        ch.push({ type: "polygon", shape: { points: [[c[0], c[1] - h * 1.2], [c[0] - h, c[1] + h * 0.8], [c[0] + h, c[1] + h * 0.8]] }, style: { fill: color } });
      }
      return { type: "group", children: ch };
    },
  };
}

// limit markers: rows [x, y at cap, y at arrow tip]
function limitArrows(gi: number, rows: number[][], color: string, lw: number, capHalf: number, head: number) {
  return {
    type: "custom", xAxisIndex: gi, yAxisIndex: gi, silent: true, z: 7, data: rows, encode: { x: 0, y: 1 },
    renderItem: (p: any, api: any) => {
      const a = api.coord([api.value(0), api.value(1)]);
      const b = api.coord([api.value(0), api.value(2)]);
      const dir = b[1] < a[1] ? -1 : 1;
      return { type: "group", children: [
        { type: "line", shape: { x1: a[0] - capHalf, y1: a[1], x2: a[0] + capHalf, y2: a[1] }, style: { stroke: color, lineWidth: lw } },
        { type: "line", shape: { x1: a[0], y1: a[1], x2: b[0], y2: b[1] - dir * head * 0.6 }, style: { stroke: color, lineWidth: lw } },
        { type: "polygon", shape: { points: [[b[0], b[1]], [b[0] - head * 0.55, b[1] - dir * head], [b[0] + head * 0.55, b[1] - dir * head]] }, style: { fill: color } },
      ] };
    },
  };
}

function leftChevron(gi: number, rows: number[][], color: string) {
  return {
    type: "custom", xAxisIndex: gi, yAxisIndex: gi, silent: true, z: 7, data: rows, encode: { x: 0, y: 1 },
    renderItem: (p: any, api: any) => {
      const c = api.coord([api.value(0), api.value(1)]);
      return { type: "polyline", shape: { points: [[c[0] + 10, c[1] - 6], [c[0], c[1]], [c[0] + 10, c[1] + 6]] }, style: { stroke: color, lineWidth: 1.3, fill: "none" } };
    },
  };
}

// metallicity range block reaching from the axis: rows [z end, low, high]
function rangeBlock(gi: number, rows: number[][], xFrom: number, fill: string) {
  return {
    type: "custom", xAxisIndex: gi, yAxisIndex: gi, silent: true, z: 6, data: rows, encode: { x: 0, y: [1, 2] },
    renderItem: (p: any, api: any) => {
      const a = api.coord([xFrom, api.value(2)]);
      const b = api.coord([api.value(0), api.value(1)]);
      return { type: "rect", shape: { x: a[0], y: a[1], width: b[0] - a[0], height: b[1] - a[1] }, style: { fill } };
    },
  };
}

function buildOption() {
  const grid = GRIDS.map((g) => ({
    left: g.left, top: g.top, width: g.width, height: g.height, show: true, borderColor: INK, borderWidth: g.bw,
    backgroundColor: "rgba(0,0,0,0)", containLabel: false, outerBoundsMode: "none",
  }));
  const nameStyle = (fs: number, sub: number, pad: number) => ({
    fontFamily: SERIF, fontSize: fs, color: "#111",
    rich: { s: { fontFamily: SERIF, fontSize: sub, color: "#111", padding: [pad, 0, 0, 0] } },
  });
  const names: any[] = [
    { y: "sfr (M{s|⊙}/yr)", yGap: 72, ys: nameStyle(25, 15, 12) },
    { y: "sfr (M{s|⊙}/yr)", yGap: 75, ys: nameStyle(25, 15, 12) },
    { y: "M{s|BH}  (M{s|⊙})", yGap: 62, ys: nameStyle(18, 11, 10), x: "M{s|star}  (M{s|⊙})", xGap: 36, xs: nameStyle(18, 11, 10) },
    { y: "M{s|BH}  (M{s|⊙})", yGap: 62, ys: nameStyle(18, 11, 10) },
    { y: "Mass (M{s|⊙})", yGap: 70, ys: nameStyle(17, 11, 9), x: "redshift", xGap: 30, xs: nameStyle(20, 12, 0) },
    { y: "Mass (M{s|⊙})", yGap: 70, ys: nameStyle(17, 11, 9), x: "redshift", xGap: 32, xs: nameStyle(20, 12, 0) },
  ];
  const xAxis = GRIDS.map((g, i) => ({
    type: "value", gridIndex: i, min: g.x[0], max: g.x[1],
    axisLine: { show: false }, axisTick: { show: false }, splitLine: { show: false },
    axisLabel: g.xl
      ? { show: true, customValues: g.xl, formatter: (v: number) => (g.xt === "log" ? pow10(Math.round(v)) : String(Math.round(v))), margin: g.xm, fontFamily: SERIF, fontSize: g.fs, color: "#111" }
      : { show: false },
    name: names[i].x || "", nameLocation: "middle", nameGap: names[i].xGap || 0, nameTextStyle: names[i].xs || {},
  }));
  const yAxis = GRIDS.map((g, i) => ({
    type: "value", gridIndex: i, min: g.y[0], max: g.y[1],
    axisLine: { show: false }, axisTick: { show: false }, splitLine: { show: false },
    axisLabel: { show: true, customValues: g.yl, formatter: (v: number) => pow10(Math.round(v)), margin: g.ym, fontFamily: SERIF, fontSize: g.fs, color: "#111" },
    name: names[i].y, nameLocation: "middle", nameGap: names[i].yGap, nameTextStyle: names[i].ys,
  }));

  const series: any[] = [];
  GRIDS.forEach((g, i) => series.push(tickSeries(i, g)));

  // star formation rate panels
  series.push(band(0, sfrQ2Band, "#c4f5f8"));
  series.push(curve(0, sfrQ2Line, "#1c7fe6", 2.2, 4, 0.3));
  series.push(limitArrows(0, sfrQ2Limit, "#f0402c", 1.8, 8, 8));
  series.push(band(1, sfrB3Band, "#a9d7e5"));
  series.push(curve(1, sfrB3Line, "#0a0ad8", 3));
  series.push(limitArrows(1, sfrB3Limit, "#ee1c1c", 3, 8, 9));

  // black hole vs stellar mass panels
  series.push(band(2, q1Band, "#d3d3d3", true));
  series.push(band(2, q2Band, "#a6f2f6", true));
  series.push(band(3, b1Band, "#f9f4a6", true));
  series.push(band(3, b3Band, "#a9d6e6", true));
  [2, 3].forEach((gi) => {
    series.push(curve(gi, localRelation, "#e23a3a", 1.5, 3, false, [2, 3]));
    series.push(errorBars(gi, localSample, "#6e6e6e", { lw: 1.1, cap: 3, size: 7, marker: -1, z: 5 }));
    series.push(errorBars(gi, highzQuasars, "#111111", { lw: 1.3, cap: 3.5, size: 6, marker: 0, z: 6 }));
    series.push(leftChevron(gi, highzStarLimit, "#111111"));
    series.push(errorBars(gi, j1148, "#ee1a1a", { lw: 1.3, cap: 3.5, size: 8, marker: 1, z: 7 }));
  });
  series.push(curve(2, q1Track, "#111111", 1.8, 4, 0.3));
  series.push(curve(2, q2Track, "#1d7fe8", 1.8, 4, 0.3));
  series.push(curve(3, b1Track, "#f59a10", 1.8, 4, 0.3));
  series.push(curve(3, b3Track, "#0b1be0", 1.8, 4, 0.3));

  // mass evolution panels
  const massPanel = (gi: number, d: any) => {
    series.push(band(gi, d.gasB, "#a9d8e6"));
    series.push(band(gi, d.starsB, "#ece38a"));
    series.push(band(gi, d.metalsB, "#cdeec0"));
    series.push(band(gi, d.dustB, "#fdd8cc"));
    series.push(curve(gi, d.gas, "#0a0aff", 1.6, 4, 0.2));
    series.push(curve(gi, d.stars, "#ff8c00", 1.6, 4, 0.2));
    series.push(curve(gi, d.metals, "#1e8a1e", 1.6, 4));
    series.push(curve(gi, d.dust, "#ff1010", 1.6, 4));
    series.push(rangeBlock(gi, d.metalsObs, GRIDS[gi].x[0], "#168616"));
    series.push(errorBars(gi, d.starsObs, "#f7941d", { lw: 1.3, cap: 4, size: 6, marker: 0, z: 7 }));
    series.push(limitArrows(gi, d.gasObs, "#1a1aff", 1.5, 8, 7));
    series.push(errorBars(gi, d.dustObs, "#ee1111", { lw: 1.3, cap: 5, size: 10, marker: 2, z: 7 }));
  };
  massPanel(4, { gasB: gasQ2Band, starsB: starsQ2Band, metalsB: metalsQ2Band, dustB: dustQ2Band, gas: gasQ2, stars: starsQ2, metals: metalsQ2, dust: dustQ2, metalsObs: metalsObsQ2, starsObs: starsObsQ2, gasObs: gasObsQ2, dustObs: dustObsQ2 });
  massPanel(5, { gasB: gasB3Band, starsB: starsB3Band, metalsB: metalsB3Band, dustB: dustB3Band, gas: gasB3, stars: starsB3, metals: metalsB3, dust: dustB3, metalsObs: metalsObsB3, starsObs: starsObsB3, gasObs: gasObsB3, dustObs: dustObsB3 });

  // overlays and annotations
  const text = (t: string, x: number, y: number, st: any, extra: any = {}) => ({
    type: "text", x, y, z: 30, silent: true,
    style: { text: t, fill: st.color, fontSize: st.size, fontFamily: st.family, fontWeight: st.weight || "normal",
      align: st.align || "left", verticalAlign: st.valign || "middle", textAlign: st.align || "left", textVerticalAlign: st.valign || "middle", rich: st.rich },
    ...extra,
  });
  const frameBox = (x: number, y: number, w: number, h: number, color: string) => ({
    type: "rect", z: 32, silent: true, shape: { x, y, width: w, height: h, r: 4 },
    style: { fill: "none", stroke: color, lineWidth: 8, shadowBlur: 5, shadowOffsetX: 2, shadowOffsetY: 3, shadowColor: "rgba(0,0,0,0.35)" },
  });
  const graphic: any[] = [
    text("model Q2", 255, 386, { color: "#2a8af5", size: 19, family: SANS }, { scaleX: 1.3 }),
    text("model B3", 250, 745, { color: "#3434ec", size: 19, family: SANS }, { scaleX: 1.3 }),
    text("redshift", 260, 1088, { color: "#111", size: 21, family: SERIF, align: "center" }, { scaleX: 1.56 }),

    text("Q2 std.", 584.5, 53, { color: "#2b8ef0", size: 15, family: SANS }),
    text("Q1 std.", 584.5, 69.5, { color: "#111", size: 15, family: SANS }),
    { type: "circle", z: 30, silent: true, shape: { cx: 578.5, cy: 109, r: 2.3 }, style: { fill: "#ee1a1a" } },
    text("SDSS J1148 z=6.4", 583.7, 104.5, { color: "#ee1a1a", size: 15, family: SANS }),
    text("B3 std.", 584.5, 646, { color: "#1212ee", size: 15, family: SANS }),
    text("B1 std.", 584.5, 663, { color: "#f7a030", size: 15, family: SANS }),
    { type: "circle", z: 30, silent: true, shape: { cx: 579, cy: 702.7, r: 2.3 }, style: { fill: "#ee1a1a" } },
    text("SDSS J1148 z=6.4", 583.7, 698, { color: "#ee1a1a", size: 15, family: SANS }),

    text("X 3", 934, 70, { color: "#8e1b0f", size: 37, family: SANS, weight: "bold", align: "center" }),
    text("X 10", 940, 670, { color: "#8e1b0f", size: 37, family: SANS, weight: "bold", align: "center" }),
    frameBox(820, 97.5, 163.5, 132.5, "#8e1b0f"),
    frameBox(841.6, 696.7, 162.8, 133.3, "#8e1b0f"),

    text("model Q2", 1663, 60, { color: "#222", size: 21, family: SERIF, align: "center" }, { scaleX: 1.3 }),
    text("model B3", 1662, 677, { color: "#222", size: 21, family: SERIF, align: "center" }, { scaleX: 1.3 }),
    text("gas", 1504, 122, { color: "#0c2b6b", size: 36, family: HUM, weight: "bold" }),
    text("stars", 1502, 268, { color: "#f5a04c", size: 36, family: HUM, weight: "bold" }),
    text("metals", 1502, 373, { color: "#12b050", size: 36, family: HUM, weight: "bold" }),
    text("dust", 1497, 467, { color: "#ff0a0a", size: 36, family: HUM, weight: "bold" }),
    frameBox(1163.7, 175.7, 163.3, 133, "#078c07"),
    frameBox(1163.7, 804.7, 163.3, 133.6, "#078c07"),

    { type: "rect", z: 40, silent: true, shape: { x: 384, y: 1081, width: 974.5, height: 160 }, style: { fill: "#b3b3b3", stroke: "#2b2b2b", lineWidth: 2 } },
    text("chemical properties are reproduced but", 871, 1123, { color: "#000", size: 49, family: SANS, weight: "bold", align: "center" }, { z: 41 }),
    text("{m|M}{s|star}{m| > M}{s|dyn}{m| - M}{s|gas}", 871, 1177, {
      color: "#000", size: 48, family: SANS, weight: "bold", align: "center",
      rich: {
        m: { fontSize: 48, fontFamily: SANS, fontWeight: "bold", fill: "#000", color: "#000" },
        s: { fontSize: 32, fontFamily: SANS, fontWeight: "bold", fill: "#000", color: "#000", padding: [28, 0, 0, 0] },
      },
    }, { z: 41 }),
  ];

  return { animation: false, backgroundColor: "#ffffff", grid, xAxis, yAxis, series, graphic };
}

export default function App() {
  const ref = useRef<HTMLDivElement>(null);
  useEffect(() => {
    const chart = echarts.init(ref.current as HTMLDivElement, null, { renderer: "svg", width: 1757, height: 1212 });
    chart.setOption(buildOption() as any);
    return () => chart.dispose();
  }, []);
  return <div ref={ref} style={{ position: "fixed", left: 0, top: 0, width: 1757, height: 1212, background: "#fff" }} />;
}
